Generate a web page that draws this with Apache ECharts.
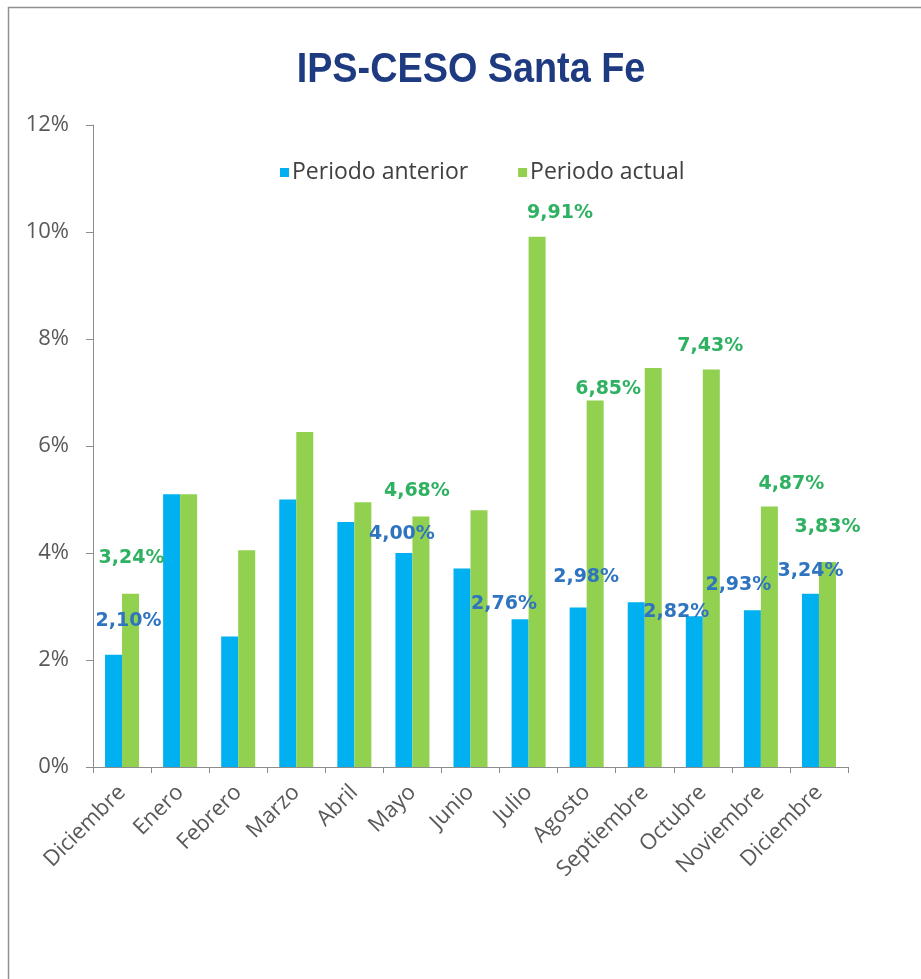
<!DOCTYPE html>
<html>
<head>
<meta charset="utf-8">
<script src="https://cdn.jsdelivr.net/npm/echarts@6/dist/echarts.min.js"></script>
<style>
  html, body { margin: 0; padding: 0; background: #ffffff; }
  #chart { width: 921px; height: 979px; }
</style>
</head>
<body>
<div id="chart"></div>
<script>
// ---- data ----
const titleText = 'IPS-CESO Santa Fe';
const categories = ['Diciembre', 'Enero', 'Febrero', 'Marzo', 'Abril', 'Mayo', 'Junio', 'Julio', 'Agosto', 'Septiembre', 'Octubre', 'Noviembre', 'Diciembre'];
const periodoAnterior = [2.10, 5.10, 2.44, 5.00, 4.58, 4.00, 3.71, 2.76, 2.98, 3.08, 2.82, 2.93, 3.24];
const periodoActual = [3.24, 5.10, 4.05, 6.26, 4.95, 4.68, 4.80, 9.91, 6.85, 7.46, 7.43, 4.87, 3.83];
const yTicks = [0, 2, 4, 6, 8, 10, 12];
const seriesNames = ['Periodo anterior', 'Periodo actual'];

// ---- which labels are shown and where they sit (label placement only) ----
const anteriorLabelOffsets = { 0: [15, -19], 5: [-2, -4], 7: [-16, -1], 8: [8, -16], 10: [-18, 10], 11: [-14, -11], 12: [0, -8] };
const actualLabelOffsets = { 0: [1, -21], 5: [-4, -11], 7: [23, -9], 8: [13, 3], 10: [-1, -9], 11: [22, -8], 12: [0, -21] };

const fmt = v => v.toFixed(2).replace('.', ',') + '%';

function buildData(values, offsets, color) {
  return values.map((v, i) => {
    const item = { value: v };
    if (offsets[i]) {
      item.label = {
        show: true,
        position: 'top',
        distance: 5,
        offset: offsets[i],
        formatter: p => fmt(p.value),
        color: color,
        fontFamily: 'DejaVu Sans',
        fontWeight: 'bold',
        fontSize: 19
      };
    }
    return item;
  });
}

const axisFont = "'Open Sans', sans-serif";
const chart = echarts.init(document.getElementById('chart'));
chart.setOption({
  animation: false,
  backgroundColor: '#ffffff',
  graphic: [
    {
      type: 'rect',
      shape: { x: 8.5, y: 7.5, width: 940, height: 1000 },
      style: { fill: 'none', stroke: '#8f8f8f', lineWidth: 1.5 },
      silent: true
    },
    {
      type: 'text',
      x: 471,
      y: 70,
      scaleX: 0.9,
      style: {
        text: titleText,
        fontFamily: "'Liberation Sans', Arial, sans-serif",
        fontWeight: 'bold',
        fontSize: 42,
        fill: '#1E3A80',
        align: 'center',
        verticalAlign: 'middle'
      },
      silent: true
    }
  ],
  legend: {
    data: seriesNames,
    left: 275,
    top: 156,
    itemWidth: 9,
    itemHeight: 9,
    itemGap: 50,
    icon: 'rect',
    textStyle: { fontFamily: axisFont, fontSize: 23, color: '#404040', padding: [0, 0, 0, -2] }
  },
  grid: { left: 93, right: 73, top: 125, bottom: 212, containLabel: false },
  xAxis: {
    type: 'category',
    data: categories,
    axisLine: { lineStyle: { color: '#8c8c8c', width: 1 } },
    axisTick: { show: true, alignWithLabel: false, length: 6, lineStyle: { color: '#8c8c8c' } },
    axisLabel: {
      interval: 0,
      rotate: 45,
      margin: 22,
      color: '#595959',
      fontFamily: axisFont,
      fontSize: 22
    }
  },
  yAxis: {
    type: 'value',
    min: yTicks[0],
    max: yTicks[yTicks.length - 1],
    interval: yTicks[1] - yTicks[0],
    axisLine: { show: true, lineStyle: { color: '#8c8c8c', width: 1 } },
    axisTick: { show: true, length: 7, lineStyle: { color: '#8c8c8c' } },
    splitLine: { show: false },
    axisLabel: {
      formatter: '{value}%',
      color: '#595959',
      fontFamily: axisFont,
      fontSize: 22,
      margin: 24
    }
  },
  series: [
    {
      name: seriesNames[0],
      type: 'bar',
      barWidth: 17,
      barGap: '0%',
      itemStyle: { color: '#00B0F0' },
      data: buildData(periodoAnterior, anteriorLabelOffsets, '#2F74BF')
    },
    {
      name: seriesNames[1],
      type: 'bar',
      barWidth: 17,
      barGap: '0%',
      itemStyle: { color: '#92D050' },
      data: buildData(periodoActual, actualLabelOffsets, '#2EB160')
    }
  ]
});
</script>
</body>
</html>
